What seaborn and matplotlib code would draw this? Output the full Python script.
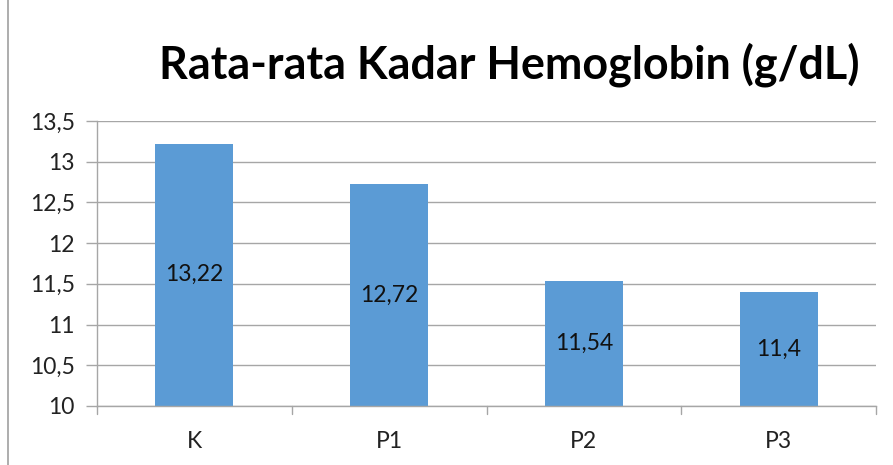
import seaborn as sns
import pandas as pd
import matplotlib.pyplot as plt
from matplotlib.lines import Line2D
import numpy as np

kelompok = ["K", "P1", "P2", "P3"]
hemoglobin = [13.22, 12.72, 11.54, 11.4]
label_bar = ["13,22", "12,72", "11,54", "11,4"]
y_ticks = [10, 10.5, 11, 11.5, 12, 12.5, 13, 13.5]

sns.set_theme(style="white")
plt.rcParams['font.family'] = ['Lato', 'DejaVu Sans']

df = pd.DataFrame({"Kelompok": kelompok, "Hb": hemoglobin})

fig = plt.figure(figsize=(8.93, 4.65), dpi=100)
ax = fig.add_axes([0.1086, 0.127, 0.8724, 0.613])

grid_col = "#a6a6a6"
ax.set_ylim(10, 13.5)
ax.set_yticks(y_ticks)
ax.yaxis.grid(True, color=grid_col, linewidth=1)
ax.set_axisbelow(True)

# bars start at 10 (axis minimum), like the spreadsheet chart
sns.barplot(data=df, x="Kelompok", y="Hb", color="#5b9bd5", width=0.4,
            saturation=1, ax=ax, bottom=0)
for p in ax.patches:
    p.set_edgecolor("none")

for i, (v, lab) in enumerate(zip(hemoglobin, label_bar)):
    ax.text(i, (10 + v) / 2, lab, ha="center", va="center", fontsize=16.5, color="#111111")

ax.set_xlim(-0.5, 3.5)
ax.set_yticklabels([str(t).replace(".", ",").replace(",0", "") for t in y_ticks], fontsize=16.5, color="#222222")
ax.tick_params(axis="x", labelsize=16.5, colors="#222222", length=0, pad=18)
ax.tick_params(axis="y", length=8, width=1, color=grid_col, left=True, pad=8)
ax.set_xlabel("")
ax.set_ylabel("")
for s in ["top", "right"]:
    ax.spines[s].set_visible(False)
for s in ["left", "bottom"]:
    ax.spines[s].set_color(grid_col)
    ax.spines[s].set_linewidth(1)

# tick marks between categories
for xb in [-0.5, 0.5, 1.5, 2.5, 3.5]:
    ax.plot([xb, xb], [0, -0.03], transform=ax.get_xaxis_transform(),
            color=grid_col, lw=1, clip_on=False)

fig.text(0.963, 0.86, "Rata-rata Kadar Hemoglobin (g/dL)", ha="right", va="center",
         fontsize=32.3, fontweight="bold", color="#000000")

fig.add_artist(Line2D([0.009, 0.009], [0, 1], color="#a0a0a0", lw=1.2))

fig.savefig("out.png", dpi=100)
